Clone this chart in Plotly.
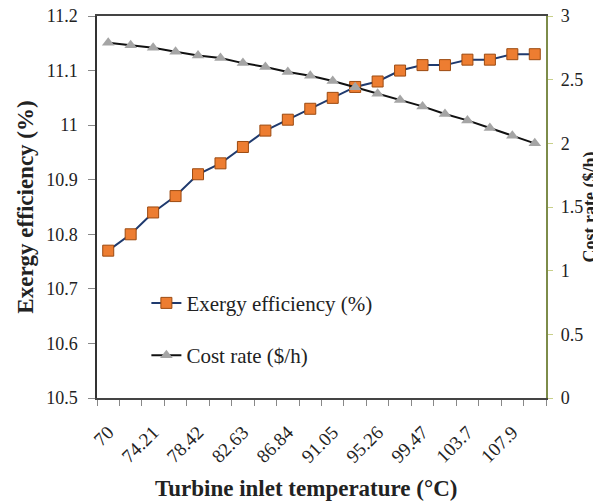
import plotly.graph_objects as go

temps = [70, 72.11, 74.21, 76.32, 78.42, 80.53, 82.63, 84.74, 86.84, 88.95,
         91.05, 93.16, 95.26, 97.37, 99.47, 101.6, 103.7, 105.8, 107.9, 110]
tick_labels = ["70", "74.21", "78.42", "82.63", "86.84", "91.05", "95.26", "99.47", "103.7", "107.9"]
exergy = [10.77, 10.80, 10.84, 10.87, 10.91, 10.93, 10.96, 10.99, 11.01, 11.03,
          11.05, 11.07, 11.08, 11.10, 11.11, 11.11, 11.12, 11.12, 11.13, 11.13]
cost = [2.79, 2.77, 2.75, 2.72, 2.69, 2.67, 2.63, 2.60, 2.56, 2.53,
        2.49, 2.44, 2.39, 2.34, 2.29, 2.23, 2.18, 2.12, 2.06, 2.00]

idx = list(range(len(temps)))
font = "Liberation Serif, Times New Roman, serif"

fig = go.Figure()
fig.add_trace(go.Scatter(
    x=idx, y=exergy, name="Exergy efficiency (%)", mode="lines+markers",
    legendgroup="a",
    line=dict(color="#1F3A6E", width=2),
    marker=dict(symbol="square", size=11, color="#ED7D31", line=dict(color="#9C4A10", width=1)),
    yaxis="y"))
fig.add_trace(go.Scatter(
    x=idx, y=cost, name="Cost rate ($/h)", mode="lines+markers",
    legendgroup="b",
    line=dict(color="#111111", width=2),
    marker=dict(symbol="triangle-up", size=11, color="#A5A5A5"),
    yaxis="y2"))

# page body adds an 8px offset, so the figure is sized to fill the rest of the window
fig.update_layout(
    width=593, height=496,
    margin=dict(l=89, r=55, t=8, b=106),
    paper_bgcolor="white", plot_bgcolor="white",
    font=dict(family=font, size=18, color="#222222"),
    showlegend=True,
    legend=dict(x=0.11, y=0.18, xanchor="left", yanchor="middle",
                bgcolor="rgba(0,0,0,0)", font=dict(size=21, family=font),
                tracegroupgap=22),
    xaxis=dict(
        automargin=False,
        range=[-0.5, 19.5], tickmode="array",
        tickvals=idx[::2], ticktext=tick_labels, tickangle=-45,
        ticks="", showgrid=False, zeroline=False,
        ticklabelstandoff=14, ticklabeloverflow="allow",
        showline=True, linecolor="#444444", linewidth=1.5, mirror=True,
        minor=dict(tickmode="array", tickvals=[i - 0.5 for i in range(21)],
                   ticks="outside", ticklen=6, tickcolor="#888888"),
        tickfont=dict(size=19, family=font),
    ),
    yaxis=dict(
        automargin=False,
        range=[10.5, 11.2], dtick=0.1, showgrid=False, zeroline=False,
        showline=True, linecolor="#333333", linewidth=1.5,
        ticks="outside", ticklen=7, tickcolor="#888888",
        ticklabelstandoff=7, ticklabeloverflow="allow",
        title=dict(text="<b>Exergy efficiency (%)</b>", font=dict(size=23, family=font), standoff=6),
        tickfont=dict(size=18, family=font),
    ),
    yaxis2=dict(
        automargin=False,
        range=[0, 3], dtick=0.5, overlaying="y", side="right",
        showgrid=False, zeroline=False,
        showline=True, linecolor="#7D8C4A", linewidth=1.5,
        ticks="outside", ticklen=5, tickcolor="#C8D08A",
        tickprefix="\u00a0", ticklabeloverflow="allow",
        title=dict(text="<b>Cost rate ($/h)</b>", font=dict(size=18, family=font), standoff=2),
        tickfont=dict(size=18, family=font),
    ),
    annotations=[
        dict(text="<b>Turbine inlet temperature (°C)</b>", xref="paper", yref="paper",
             x=0.465, y=-0.238, xanchor="center", yanchor="middle", showarrow=False,
             font=dict(size=23, family=font, color="#222222")),
    ],
)

fig.write_html("out.html")
